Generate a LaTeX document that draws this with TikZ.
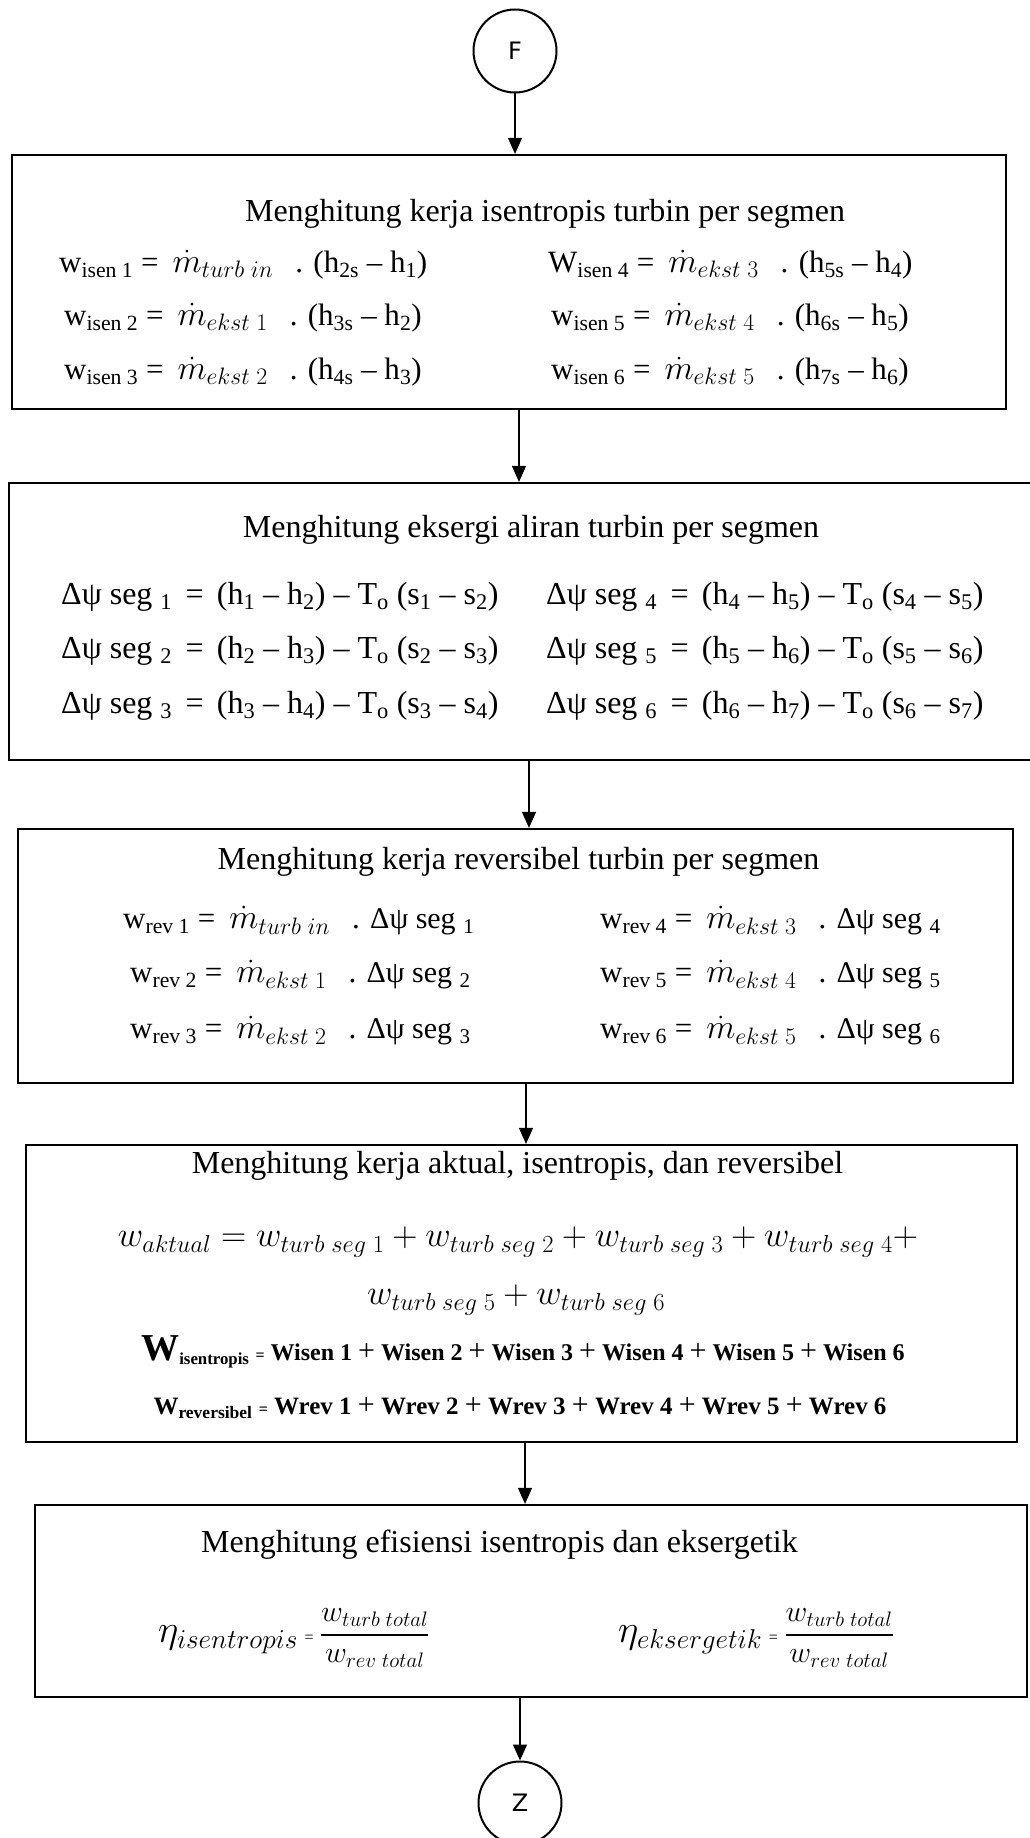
\RequirePackage{fix-cm}
\documentclass[tikz,border=0pt]{standalone}
\usepackage{amsmath}
\usepackage{fontspec}
\setmainfont{Liberation Serif}
\newfontfamily\circfont{DejaVu Sans}
\usetikzlibrary{arrows.meta}

% subscript in text
\newcommand{\lo}[1]{\textsubscript{#1}}
% mass flow rate symbol, set a little larger than the text around it,
% with its own spacing to the equals sign before and the dot after
\newcommand{\mdt}[1]{\hspace{14pt}{\fontsize{34}{38}\selectfont$\dot{m}_{#1}$}\hspace{22pt}}
% plus sign between bold terms
\newcommand{\pl}{{\mdseries\fontsize{30}{30}\selectfont +}}
% wider equals sign for the exergy rows
\newcommand{\eqs}{\,=\,}
% efficiency fraction
\newcommand{\effrac}{{\fontsize{30}{34}\selectfont$\genfrac{}{}{2.5pt}{0}{w_{turb\;total}}{w_{rev\;total}}$}}

\begin{document}
\begin{tikzpicture}[x=1pt,y=-1pt,
  stepbox/.style={draw, line width=2.2pt, rectangle, inner sep=0pt},
  flow/.style={line width=1.2pt, -{Triangle[length=16pt,width=14pt]}},
  connector/.style={circle, draw, line width=2pt, minimum size=83pt, inner sep=0pt,
    font=\circfont\fontsize{24}{28}\selectfont},
  title/.style={inner sep=0pt, font=\fontsize{32}{38}\selectfont},
  eqsmall/.style={anchor=west, inner sep=0pt, font=\fontsize{31}{36}\selectfont},
  eqbig/.style={anchor=west, inner sep=0pt, font=\fontsize{32}{38}\selectfont},
  eqsum/.style={inner sep=0pt, font=\fontsize{35}{40}\selectfont},
  eqbold/.style={inner sep=0pt, font=\fontsize{24}{30}\selectfont\bfseries},
  eqeta/.style={anchor=west, inner sep=0pt, font=\fontsize{39}{44}\selectfont}
]
\useasboundingbox (0,0) rectangle (1029,1838);

% terminators
\node[connector] (F) at (515,51) {F};
\node[connector] (Z) at (520,1803) {Z};

% process boxes
\node[stepbox, minimum width=994pt, minimum height=254pt] (b1) at (509,282) {};
\node[stepbox, minimum width=1026pt, minimum height=277pt] (b2) at (522,621.5) {};
\node[stepbox, minimum width=995pt, minimum height=254pt] (b3) at (515.5,956) {};
\node[stepbox, minimum width=991pt, minimum height=297pt] (b4) at (521.5,1293.5) {};
\node[stepbox, minimum width=992pt, minimum height=192pt] (b5) at (531,1601) {};

% box 1: isentropic work
\node[title] (t1) at (545,214) {Menghitung kerja isentropis turbin per segmen};
\node[eqsmall] (e11) at (59,265) {w\lo{isen 1} =\mdt{turb\;in}. (h\lo{2s} – h\lo{1})};
\node[eqsmall] (e12) at (64,318) {w\lo{isen 2} =\mdt{ekst\;1}. (h\lo{3s} – h\lo{2})};
\node[eqsmall] (e13) at (64,372) {w\lo{isen 3} =\mdt{ekst\;2}. (h\lo{4s} – h\lo{3})};
\node[eqsmall] (e14) at (548,265) {W\lo{isen 4} =\mdt{ekst\;3}. (h\lo{5s} – h\lo{4})};
\node[eqsmall] (e15) at (551,318) {w\lo{isen 5} =\mdt{ekst\;4}. (h\lo{6s} – h\lo{5})};
\node[eqsmall] (e16) at (551,372) {w\lo{isen 6} =\mdt{ekst\;5}. (h\lo{7s} – h\lo{6})};

% box 2: flow exergy
\node[title] (t2) at (531,530) {Menghitung eksergi aliran turbin per segmen};
\node[eqbig] (e21) at (61,597) {Δψ seg \lo{1} \eqs{} (h\lo{1} – h\lo{2}) – T\lo{o} (s\lo{1} – s\lo{2})};
\node[eqbig] (e22) at (61,651) {Δψ seg \lo{2} \eqs{} (h\lo{2} – h\lo{3}) – T\lo{o} (s\lo{2} – s\lo{3})};
\node[eqbig] (e23) at (61,706) {Δψ seg \lo{3} \eqs{} (h\lo{3} – h\lo{4}) – T\lo{o} (s\lo{3} – s\lo{4})};
\node[eqbig] (e24) at (546,597) {Δψ seg \lo{4} \eqs{} (h\lo{4} – h\lo{5}) – T\lo{o} (s\lo{4} – s\lo{5})};
\node[eqbig] (e25) at (546,651) {Δψ seg \lo{5} \eqs{} (h\lo{5} – h\lo{6}) – T\lo{o} (s\lo{5} – s\lo{6})};
\node[eqbig] (e26) at (546,706) {Δψ seg \lo{6} \eqs{} (h\lo{6} – h\lo{7}) – T\lo{o} (s\lo{6} – s\lo{7})};

% box 3: reversible work
\node[title] (t3) at (518.5,862) {Menghitung kerja reversibel turbin per segmen};
\node[eqsmall] (e31) at (123,921) {w\lo{rev 1} =\mdt{turb\;in}. {\fontsize{30}{36}\selectfont Δψ seg \lo{1}}};
\node[eqsmall] (e32) at (130,975) {w\lo{rev 2} =\mdt{ekst\;1}. {\fontsize{30}{36}\selectfont Δψ seg \lo{2}}};
\node[eqsmall] (e33) at (130,1031) {w\lo{rev 3} =\mdt{ekst\;2}. {\fontsize{30}{36}\selectfont Δψ seg \lo{3}}};
\node[eqsmall] (e34) at (600,921) {w\lo{rev 4} =\mdt{ekst\;3}. {\fontsize{30}{36}\selectfont Δψ seg \lo{4}}};
\node[eqsmall] (e35) at (600,975) {w\lo{rev 5} =\mdt{ekst\;4}. {\fontsize{30}{36}\selectfont Δψ seg \lo{5}}};
\node[eqsmall] (e36) at (600,1031) {w\lo{rev 6} =\mdt{ekst\;5}. {\fontsize{30}{36}\selectfont Δψ seg \lo{6}}};

% box 4: totals
\node[title] (t4) at (517.5,1166) {Menghitung kerja aktual, isentropis, dan reversibel};
\node[eqsum] (e41) at (518,1242) {$w_{aktual} = w_{turb\;seg\;1} + w_{turb\;seg\;2} + w_{turb\;seg\;3} + w_{turb\;seg\;4} +$};
\node[eqsum] (e42) at (516,1300) {$w_{turb\;seg\;5} + w_{turb\;seg\;6}$};
\node[eqbold] (e43) at (523,1352) {{\fontsize{38}{40}\selectfont W}\lo{isentropis} {\fontsize{16}{18}\selectfont =} Wisen 1 \pl{} Wisen 2 \pl{} Wisen 3 \pl{} Wisen 4 \pl{} Wisen 5 \pl{} Wisen 6};
\node[eqbold, font=\fontsize{25}{30}\selectfont\bfseries] (e44) at (520,1408) {W\lo{reversibel} {\fontsize{16}{18}\selectfont =} Wrev 1 \pl{} Wrev 2 \pl{} Wrev 3 \pl{} Wrev 4 \pl{} Wrev 5 \pl{} Wrev 6};

% box 5: efficiencies
\node[title] (t5) at (499.5,1545) {Menghitung efisiensi isentropis dan eksergetik};
\node[eqeta] (e51) at (158,1638) {$\eta_{isentropis}$\,{\fontsize{16}{18}\selectfont =}\,\effrac};
\node[eqeta] (e52) at (618,1638) {$\eta_{eksergetik}$\,{\fontsize{16}{18}\selectfont =}\,\effrac};

% connectors
\draw[flow] (F.south) -- (F.south |- b1.north);
\draw[flow] (519,0 |- b1.south) -- (519,0 |- b2.north);
\draw[flow] (529,0 |- b2.south) -- (529,0 |- b3.north);
\draw[flow] (526,0 |- b3.south) -- (526,0 |- b4.north);
\draw[flow] (525,0 |- b4.south) -- (525,0 |- b5.north);
\draw[flow] (Z.north |- b5.south) -- (Z.north);
\end{tikzpicture}
\end{document}
